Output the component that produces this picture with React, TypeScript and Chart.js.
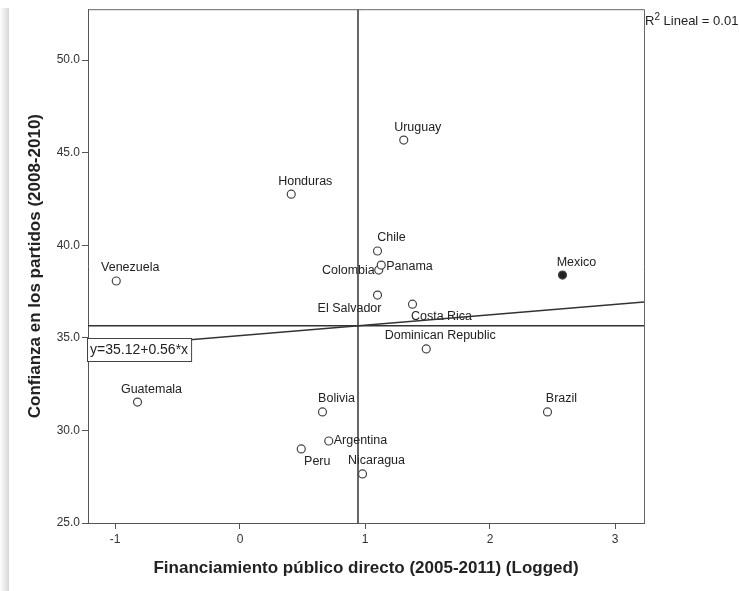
import React, { useEffect, useRef } from "react";
import { Chart, registerables } from "chart.js";

Chart.register(...registerables);

// Countries and their values: public financing (log) vs. trust in parties
const countries = [
  "Uruguay", "Honduras", "Venezuela", "Chile", "Colombia", "Panama",
  "El Salvador", "Costa Rica", "Dominican Republic", "Mexico", "Brazil",
  "Guatemala", "Bolivia", "Argentina", "Peru", "Nicaragua",
];
const financiamiento = [
  1.31, 0.41, -0.99, 1.10, 1.11, 1.13,
  1.10, 1.38, 1.49, 2.58, 2.46,
  -0.82, 0.66, 0.71, 0.49, 0.98,
];
const confianza = [
  45.68, 42.76, 38.07, 39.69, 38.66, 38.93,
  37.31, 36.82, 34.40, 38.39, 31.00,
  31.53, 31.00, 29.43, 29.00, 27.65,
];
const highlighted = ["Mexico"];

const xTicks = [-1, 0, 1, 2, 3];
const yTicks = [25, 30, 35, 40, 45, 50];
const xRange = [-1.216, 3.232];
const yRange = [25, 52.75];

// Reference lines (means) and the linear fit
const meanX = 0.944;
const meanY = 35.66;
const intercept = 35.12;
const slope = 0.56;
const rSquared = "0.010";

const xTitle = "Financiamiento público directo (2005-2011) (Logged)";
const yTitle = "Confianza en los partidos (2008-2010)";

// Label placement around each marker: [align, dx, dy]
const defaultPlacement: [CanvasTextAlign, number, number] = ["center", 14, -13];
const labelPlacement: Record<string, [CanvasTextAlign, number, number]> = {
  Colombia: ["right", -4, 0],
  Panama: ["left", 5, 1],
  Argentina: ["left", 5, 0],
  "El Salvador": ["center", -28, 13],
  "Costa Rica": ["center", 29, 12],
  Peru: ["center", 16, 13],
};

const FONT = "'Liberation Sans', Arial, sans-serif";

const decorPlugin = {
  id: "decor",
  beforeDraw(chart: any) {
    const { ctx, width, height } = chart;
    ctx.save();
    ctx.fillStyle = "#ffffff";
    ctx.fillRect(0, 0, width, height);
    const g = ctx.createLinearGradient(0, 0, 9, 0);
    g.addColorStop(0, "rgba(255,255,255,1)");
    g.addColorStop(1, "rgba(215,215,215,1)");
    ctx.fillStyle = g;
    ctx.fillRect(0, 8, 9, height - 8);
    ctx.restore();
  },
  beforeDatasetsDraw(chart: any) {
    const { ctx } = chart;
    const meta = chart.getDatasetMeta(0);
    ctx.save();
    ctx.font = `12.5px ${FONT}`;
    ctx.fillStyle = "#222";
    ctx.textBaseline = "middle";
    meta.data.forEach((pt: any, i: number) => {
      const name = countries[i];
      const [align, dx, dy] = labelPlacement[name] || defaultPlacement;
      ctx.textAlign = align;
      ctx.fillText(name, pt.x + dx, pt.y + dy);
    });
    ctx.restore();
  },
  afterDraw(chart: any) {
    const { ctx, chartArea: a, scales } = chart;
    const xs = scales.x;
    const ys = scales.y;
    ctx.save();

    // frame on top and right
    ctx.strokeStyle = "#666";
    ctx.lineWidth = 1;
    ctx.beginPath();
    ctx.moveTo(a.left, a.top + 0.5);
    ctx.lineTo(a.right + 0.5, a.top + 0.5);
    ctx.lineTo(a.right + 0.5, a.bottom);
    ctx.stroke();

    // equation box
    ctx.font = `14px ${FONT}`;
    const eq = `y=${intercept.toFixed(2)}+${slope.toFixed(2)}*x`;
    const tw = ctx.measureText(eq).width;
    const bx = a.left - 1;
    const bw = tw + 6;
    const bh = 23;
    const edgeVal = xs.getValueForPixel(bx + bw);
    const by = Math.round(ys.getPixelForValue(intercept + slope * edgeVal)) - 2;
    ctx.fillStyle = "#fff";
    ctx.fillRect(bx, by, bw, bh);
    ctx.strokeStyle = "#444";
    ctx.strokeRect(bx + 0.5, by + 0.5, bw, bh);
    ctx.fillStyle = "#222";
    ctx.textAlign = "left";
    ctx.textBaseline = "middle";
    ctx.fillText(eq, bx + 3, by + bh / 2 + 1);

    // R² annotation
    let rx = a.right + 1;
    const ry = 21;
    ctx.font = `13px ${FONT}`;
    ctx.fillText("R", rx, ry);
    rx += ctx.measureText("R").width;
    ctx.font = `10px ${FONT}`;
    ctx.fillText("2", rx, ry - 4);
    rx += ctx.measureText("2").width;
    ctx.font = `13px ${FONT}`;
    ctx.fillText(` Lineal = ${rSquared}`, rx, ry);

    // axis titles
    ctx.font = `bold 17px ${FONT}`;
    ctx.fillStyle = "#222";
    ctx.textAlign = "center";
    ctx.fillText(xTitle, (a.left + a.right) / 2, 568);
    ctx.translate(35, (a.top + a.bottom) / 2);
    ctx.rotate(-Math.PI / 2);
    ctx.fillText(yTitle, 0, 0);
    ctx.restore();
  },
};

export default function App() {
  const ref = useRef<HTMLCanvasElement | null>(null);

  useEffect(() => {
    if (!ref.current) return;
    const points = financiamiento.map((x, i) => ({ x, y: confianza[i] }));
    const fill = countries.map((c) => (highlighted.includes(c) ? "#222" : "#fff"));
    const fit = [
      { x: xRange[0], y: intercept + slope * xRange[0] },
      { x: xRange[1], y: intercept + slope * xRange[1] },
    ];
    const lineStyle = {
      showLine: true,
      borderColor: "#333",
      borderWidth: 1.5,
      pointRadius: 0,
      fill: false,
    };

    const chart = new Chart(ref.current, {
      type: "scatter",
      data: {
        datasets: [
          {
            data: points,
            pointRadius: 4,
            pointBorderWidth: 1.2,
            pointBorderColor: "#444",
            pointBackgroundColor: fill,
            showLine: false,
          },
          { data: fit, ...lineStyle },
          { data: [{ x: meanX, y: yRange[0] }, { x: meanX, y: yRange[1] }], ...lineStyle },
          { data: [{ x: xRange[0], y: meanY }, { x: xRange[1], y: meanY }], ...lineStyle },
        ],
      },
      options: {
        animation: false,
        responsive: false,
        devicePixelRatio: 1,
        layout: { padding: { top: 9, right: 95, left: 0, bottom: 0 } },
        plugins: { legend: { display: false }, tooltip: { enabled: false } },
        scales: {
          x: {
            type: "linear",
            min: xRange[0],
            max: xRange[1],
            afterBuildTicks: (s: any) => {
              s.ticks = xTicks.map((v) => ({ value: v }));
            },
            afterFit: (s: any) => {
              s.height = 68;
            },
            ticks: {
              font: { family: FONT, size: 12 },
              color: "#333",
              padding: 3,
              callback: (v: any) => String(v),
            },
            grid: { drawOnChartArea: false, tickLength: 6, color: "#555" },
            border: { color: "#555" },
          },
          y: {
            type: "linear",
            min: yRange[0],
            max: yRange[1],
            afterBuildTicks: (s: any) => {
              s.ticks = yTicks.map((v) => ({ value: v }));
            },
            afterFit: (s: any) => {
              s.width = 88;
            },
            ticks: {
              font: { family: FONT, size: 12 },
              color: "#333",
              padding: 2,
              callback: (v: any) => Number(v).toFixed(1),
            },
            grid: { drawOnChartArea: false, tickLength: 6, color: "#555" },
            border: { color: "#555" },
          },
        },
      },
      plugins: [decorPlugin],
    });
    return () => chart.destroy();
  }, []);

  return (
    <div style={{ position: "absolute", left: 0, top: 0, width: 739, height: 591, background: "#fff" }}>
      <canvas ref={ref} width={739} height={591} style={{ display: "block" }} />
    </div>
  );
}
